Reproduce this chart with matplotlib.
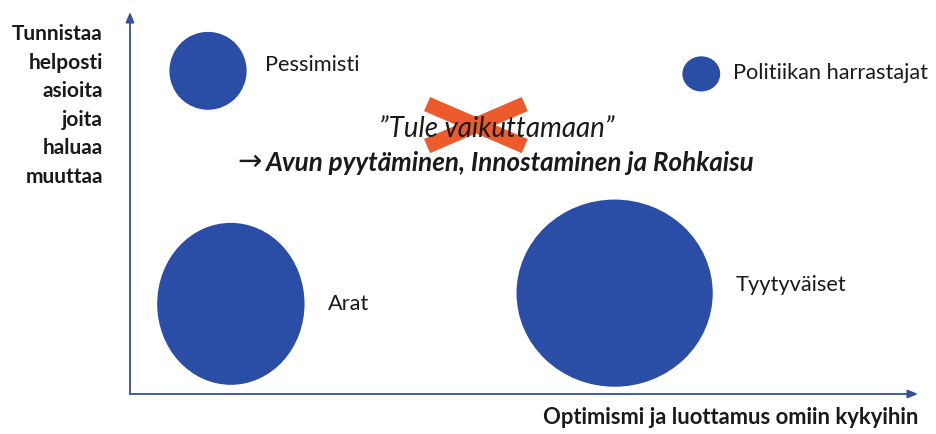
import matplotlib
matplotlib.use("Agg")
import matplotlib.pyplot as plt
from matplotlib.patches import Ellipse

# ---- data ----
groups = ["Pessimisti", "Politiikan harrastajat", "Arat", "Tyytyväiset"]
x_pos = [9.9, 72.5, 12.8, 61.5]        # optimism (0-100)
y_pos = [84.6, 83.8, 23.6, 26.4]       # recognises issues (0-100)
widths = [9.8, 4.8, 18.7, 24.9]        # bubble width (x units)
heights = [20.4, 9.2, 42.4, 49.0]      # bubble height (y units)
label_dx = [7.2, 4.0, 12.3, 15.4]      # label offset from centre
label_dy = [1.5, 0.3, 0.0, 2.1]

x_label = "Optimismi ja luottamus omiin kykyihin"
y_label_lines = ["Tunnistaa", "helposti", "asioita", "joita", "haluaa", "muuttaa"]
quote_text = "\u201dTule vaikuttamaan\u201d"
action_text = "Avun pyytäminen, Innostaminen ja Rohkaisu"

W, H = 936, 434
fig = plt.figure(figsize=(W / 100, H / 100), dpi=100)
plt.rcParams['font.family'] = ['Lato', 'DejaVu Sans']

# axes region in pixels
ax_l, ax_r, ax_b, ax_t = 130, 918, 394, 12
ax = fig.add_axes([ax_l / W, (H - ax_b) / H, (ax_r - ax_l) / W, (ax_b - ax_t) / H])
ax.set_xlim(0, 100)
ax.set_ylim(0, 100)
ax.axis("off")

bubble_color = "#2A4DA6"
for g, x, y, w, h, dx, dy in zip(groups, x_pos, y_pos, widths, heights, label_dx, label_dy):
    ax.add_patch(Ellipse((x, y), w, h, facecolor=bubble_color, edgecolor="none", zorder=2))
    ax.text(x + dx, y + dy, g, fontsize=15.7, color="#1a1a1a", va="center", ha="left", zorder=3)

# axis arrows
axis_color = "#34519F"
ax.annotate("", xy=(1.0, 0), xytext=(0, 0), xycoords="axes fraction",
            arrowprops=dict(arrowstyle="-|>,head_length=0.6,head_width=0.25", color=axis_color, lw=1.3,
                            shrinkA=0, shrinkB=0), annotation_clip=False)
ax.annotate("", xy=(0, 1.0), xytext=(0, 0), xycoords="axes fraction",
            arrowprops=dict(arrowstyle="-|>,head_length=0.6,head_width=0.25", color=axis_color, lw=1.3,
                            shrinkA=0, shrinkB=0), annotation_clip=False)

# axis titles
fig.text(ax_r / W, 1 - 418 / H, x_label, fontsize=15.8, fontweight="bold", color="#1a1a1a",
         ha="right", va="center")
for i, line in enumerate(y_label_lines):
    fig.text(103 / W, 1 - (34 + i * 28.6) / H, line, fontsize=15, fontweight="bold",
             color="#1a1a1a", ha="right", va="center")

# crossed-out slogan
ax.text(46.6, 69.4, quote_text, fontsize=20, style="italic", color="#1a1a1a",
        ha="center", va="center", zorder=5)
xc0, xc1 = 37.7, 50.1
yc0, yc1 = 64.9, 75.9
ax.plot([xc0, xc1], [yc0, yc1], color="#EC5B2C", lw=11, solid_capstyle="butt", zorder=4)
ax.plot([xc0, xc1], [yc1, yc0], color="#EC5B2C", lw=11, solid_capstyle="butt", zorder=4)

ax.text(16.75, 60.8, "\u2192", fontsize=21, color="#1a1a1a", ha="right", va="center", zorder=5,
        family="DejaVu Sans")
ax.text(17.1, 60.5, action_text, fontsize=18.7, style="italic", fontweight="bold", color="#1a1a1a",
        ha="left", va="center", zorder=5)

fig.savefig("out.png", dpi=100)
